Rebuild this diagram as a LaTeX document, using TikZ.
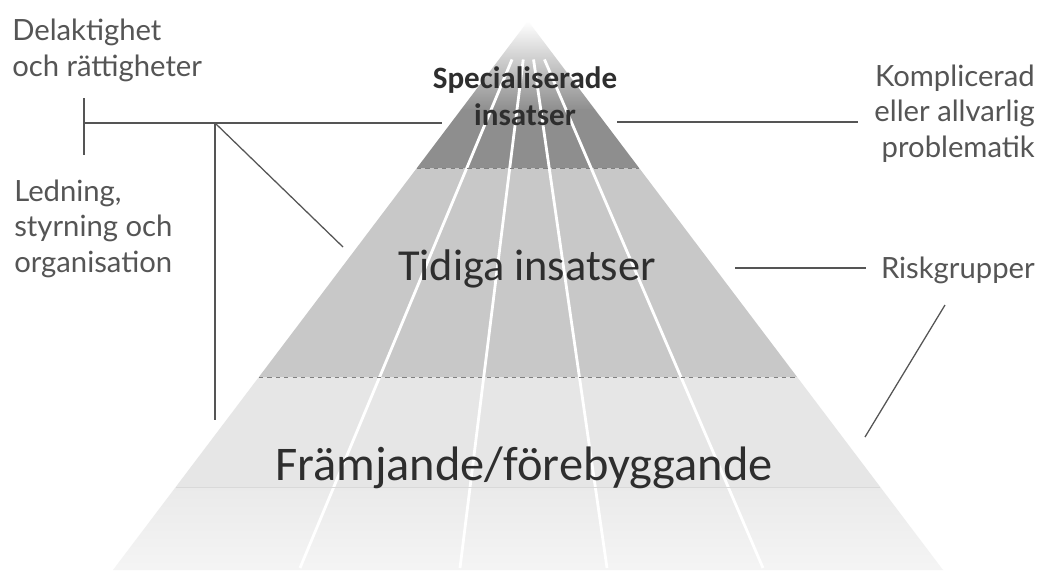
\documentclass[tikz,border=0pt]{standalone}
\usepackage{fontspec}
\setmainfont{Lato}
\newfontfamily\levelfont{Carlito}
\usetikzlibrary{calc}
\definecolor{specgray}{HTML}{8E8E8E}
\definecolor{tidgray}{HTML}{C8C8C8}
\definecolor{framgray}{HTML}{E6E6E6}
\definecolor{basegray}{HTML}{EAEAEA}
\definecolor{labelgray}{HTML}{555555}
\definecolor{textdark}{HTML}{2E2E2E}

\begin{document}
\begin{tikzpicture}[x=0.025cm,y=-0.025cm,
  sidelabel/.style={font=\fontsize{20.8}{24.9}\selectfont,text=labelgray,inner sep=0pt},
  levellabel/.style={text=textdark,inner sep=0pt,align=center},
  leader/.style={labelgray,line width=0.9pt}]
\useasboundingbox[fill=white] (0,0) rectangle (1045,574);

% pyramid
\coordinate (top) at (528,21);
\coordinate (bl) at (113,570);
\coordinate (br) at (943,570);
\foreach \t/\n in {0.1621/s,0.2678/a,0.6485/b,0.8488/c}
{
\coordinate (l\n) at ($(top)!\t!(bl)$);
\coordinate (r\n) at ($(top)!\t!(br)$);
}

\shade[top color=white,middle color=specgray!18,bottom color=specgray] (top)--(ls)--(rs)--cycle;
\fill[specgray] (ls)--(la)--(ra)--(rs)--cycle;
\fill[tidgray] (la)--(lb)--(rb)--(ra)--cycle;
\fill[framgray] (lb)--(lc)--(rc)--(rb)--cycle;
\shade[top color=basegray,bottom color=basegray!50] (lc)--(bl)--(br)--(rc)--cycle;

\foreach \x in {300,460,607,763}
{
\draw[white,line width=2pt] ($(top)!0.07!(\x,570)$)--(\x,568);
}
\draw[gray,dashed,line width=0.6pt] (la)--(ra) (lb)--(rb);
\draw[black!15,line width=0.5pt] (lc)--(rc);

% labels (base = last line)
\node[sidelabel,align=left,anchor=base west] (delak) at (12,76) {Delaktighet\\och rättigheter};
\node[sidelabel,align=left,anchor=base west] (ledn) at (14,272) {Ledning,\\styrning och\\organisation};
\node[sidelabel,align=right,anchor=base east] (komp) at (1035,157) {Komplicerad\\eller allvarlig\\problematik};
\node[sidelabel,anchor=base east] (risk) at (1035,278) {Riskgrupper};

\node[levellabel,font=\levelfont\bfseries\fontsize{22.1}{26.3}\selectfont,anchor=base] (spec) at (525,125) {Specialiserade\\insatser};
\node[levellabel,font=\levelfont\fontsize{31.5}{36}\selectfont,anchor=base] (tid) at (527,280) {Tidiga insatser};
\node[levellabel,font=\levelfont\fontsize{34.4}{40}\selectfont,anchor=base] (fram) at (524,480) {Främjande/förebyggande};

% leaders
\coordinate (tickup) at (84,98);
\coordinate (tickdn) at (84,155);
\coordinate (tickmid) at (84,123);
\coordinate (branch) at (215,123);
\coordinate (specl) at (442,123);
\coordinate (specr) at (617,122);
\coordinate (kompl) at (858,122);
\coordinate (vend) at (215,420);
\coordinate (dend) at (343,247);
\coordinate (tidr) at (735,268);
\coordinate (riskl) at (866,268);
\coordinate (rdtop) at (945,305);
\coordinate (rdbot) at (865,437);

\draw[leader] (tickup)--(tickdn);
\draw[leader] (tickmid)--(specl);
\draw[leader] (branch)--(vend);
\draw[leader] (branch)--(dend);
\draw[leader] (specr)--(kompl);
\draw[leader] (tidr)--(riskl);
\draw[leader] (rdtop)--(rdbot);
\end{tikzpicture}
\end{document}
